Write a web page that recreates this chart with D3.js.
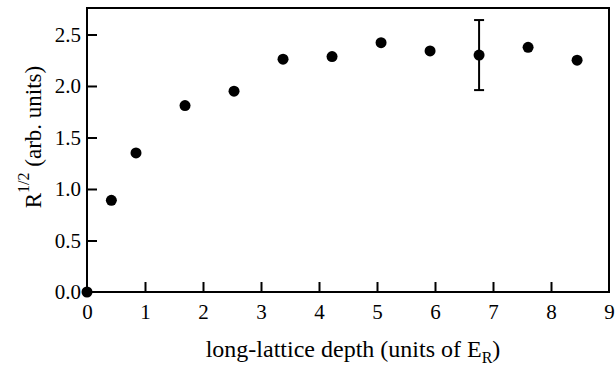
<!DOCTYPE html>
<html>
<head>
<meta charset="utf-8">
<script src="https://d3js.org/d3.v7.min.js"></script>
<style>
  body { margin: 0; background: #fff; }
  text { font-family: "Liberation Serif", "DejaVu Serif", serif; fill: #000; }
</style>
</head>
<body>
<div id="chart"></div>
<script>
// lattice depth (E_R) and sqrt(R) values
var depth = [0, 0.42, 0.845, 1.69, 2.535, 3.38, 4.225, 5.07, 5.915, 6.76, 7.605, 8.45];
var sqrtR = [0, 0.89, 1.35, 1.81, 1.95, 2.26, 2.285, 2.42, 2.34, 2.30, 2.375, 2.25];
// one error bar on the 6.76 point
var errIndex = [9];
var errLow = [1.96];
var errHigh = [2.64];
var xTicks = [0, 1, 2, 3, 4, 5, 6, 7, 8, 9];
var yTicks = [0, 0.5, 1.0, 1.5, 2.0, 2.5];

var width = 615, height = 366;
var margin = { left: 87, right: 6, top: 8, bottom: 74 };

var svg = d3.select('#chart').append('svg')
  .attr('width', width)
  .attr('height', height);

var x = d3.scaleLinear().domain([0, 9]).range([margin.left, width - margin.right]);
var y = d3.scaleLinear().domain([0, 2.757]).range([height - margin.bottom, margin.top]);

// frame
svg.append('rect')
  .attr('x', x(0))
  .attr('y', y(2.757))
  .attr('width', x(9) - x(0))
  .attr('height', y(0) - y(2.757))
  .style('fill', 'none')
  .style('stroke', '#000')
  .style('stroke-width', 2);

var xAxis = svg.append('g')
  .attr('transform', 'translate(0,' + y(0) + ')')
  .call(d3.axisBottom(x).tickValues(xTicks).tickFormat(d3.format('d')).tickSizeInner(-10).tickSizeOuter(0).tickPadding(12));

var yAxis = svg.append('g')
  .attr('transform', 'translate(' + x(0) + ',0)')
  .call(d3.axisLeft(y).tickValues(yTicks).tickFormat(d3.format('.1f')).tickSizeInner(-10).tickSizeOuter(0).tickPadding(6));

[xAxis, yAxis].forEach(function(a) {
  a.attr('font-family', null).attr('font-size', null);
  a.select('.domain').remove();
  a.selectAll('.tick line').style('stroke', '#000').style('stroke-width', 2);
  a.selectAll('.tick text').style('font-size', '21px');
});
xAxis.selectAll('.tick line').filter(function(d) { return d === 0 || d === 9; }).remove();
yAxis.selectAll('.tick line').filter(function(d) { return d === 0; }).remove();

// error bar
errIndex.forEach(function(i, k) {
  var cx = x(depth[i]);
  var g = svg.append('g').style('stroke', '#000').style('stroke-width', 2);
  g.append('line').attr('x1', cx).attr('x2', cx).attr('y1', y(errLow[k])).attr('y2', y(errHigh[k]));
  g.append('line').attr('x1', cx - 5).attr('x2', cx + 5).attr('y1', y(errLow[k])).attr('y2', y(errLow[k]));
  g.append('line').attr('x1', cx - 5).attr('x2', cx + 5).attr('y1', y(errHigh[k])).attr('y2', y(errHigh[k]));
});

svg.append('g').selectAll('circle')
  .data(depth)
  .enter().append('circle')
  .attr('cx', function(d) { return x(d); })
  .attr('cy', function(d, i) { return y(sqrtR[i]); })
  .attr('r', 5.5)
  .style('fill', '#000');

// axis titles
var xt = svg.append('text')
  .attr('x', 353)
  .attr('y', 357)
  .attr('text-anchor', 'middle')
  .style('font-size', '24px');
xt.append('tspan').text('long-lattice depth (units of E');
xt.append('tspan').attr('dy', 6).style('font-size', '16px').text('R');
xt.append('tspan').attr('dy', -6).text(')');

var yt = svg.append('text')
  .attr('transform', 'translate(41,137) rotate(-90)')
  .attr('text-anchor', 'middle')
  .style('font-size', '23px');
yt.append('tspan').text('R');
yt.append('tspan').attr('dy', -12).style('font-size', '16px').text('1/2');
yt.append('tspan').attr('dy', 12).text(' (arb. units)');
</script>
</body>
</html>
